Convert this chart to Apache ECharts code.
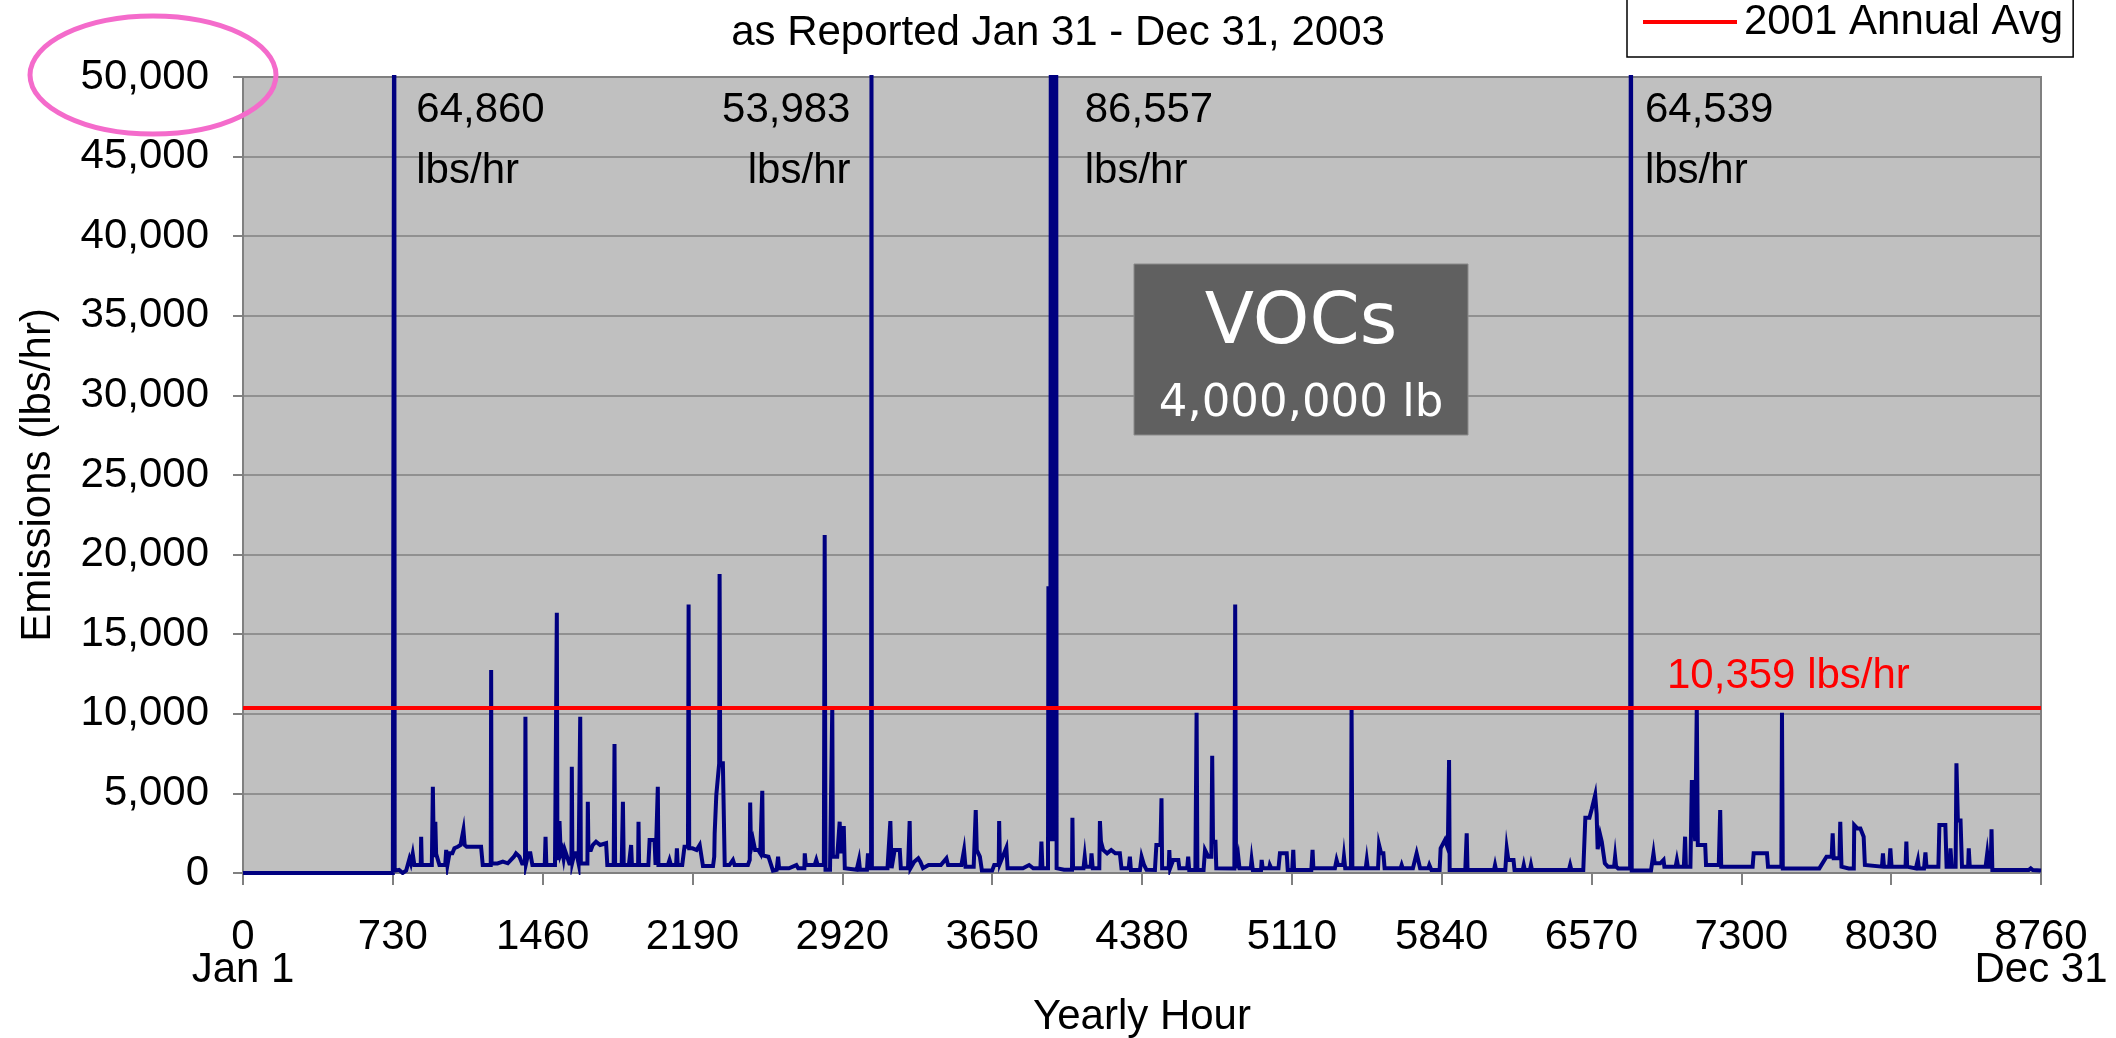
<!DOCTYPE html>
<html>
<head>
<meta charset="utf-8">
<script src="https://cdn.jsdelivr.net/npm/echarts@6/dist/echarts.min.js"></script>
<style>
  html, body { margin: 0; padding: 0; background: #fff; }
  #chart { width: 2116px; height: 1038px; }
</style>
</head>
<body>
<div id="chart"></div>
<script>
// hourly VOC emissions as [yearly hour, lbs/hr]
const janToMar = [
  [0, 0], [730, 0], [735, 0], [737, 64860], [739, 150], [746, 80], [760, 200], [778, 0], [795, 150],
  [811, 900], [818, 600], [827, 1200], [835, 500], [843, 500], [866, 500], [868, 2280], [871, 500],
  [900, 500], [920, 500], [925, 5420], [930, 1000], [937, 3220], [941, 1200], [950, 1200], [957, 500],
  [985, 500], [990, 1450], [996, 500], [1006, 1235], [1020, 1235], [1030, 1550], [1046, 1650], [1060, 1760],
  [1074, 2700], [1080, 1760], [1090, 1650], [1103, 1650], [1130, 1650], [1160, 1650], [1168, 500],
  [1190, 500], [1207, 500], [1209, 12750], [1211, 600],
  [1240, 600], [1266, 710], [1290, 610], [1320, 1025], [1330, 1235], [1347, 1025], [1360, 600],
  [1374, 600], [1376, 9820], [1379, 600], [1390, 1235], [1400, 1235], [1410, 500],
  [1470, 500], [1474, 2280], [1478, 500], [1520, 500], [1527, 500], [1529, 16350], [1532, 800],
  [1542, 3260], [1548, 1200], [1555, 1445], [1562, 900], [1568, 1445], [1574, 1445], [1590, 600],
  [1600, 600], [1602, 6680], [1605, 700], [1615, 1235], [1625, 1235], [1635, 600],
  [1641, 600], [1643, 9820], [1646, 600], [1665, 600], [1678, 600], [1680, 4480], [1683, 1445], [1695, 1445],
  [1704, 1760], [1720, 1970], [1740, 1760], [1769, 1870], [1775, 500],
  [1806, 500], [1808, 500], [1810, 8100], [1813, 500], [1845, 500], [1851, 4480], [1855, 500],
  [1880, 500], [1891, 1760], [1895, 500], [1925, 500], [1927, 3220], [1930, 500],
  [1975, 500], [1981, 2070], [2005, 2070], [2010, 500], [2018, 500], [2021, 5420], [2024, 500],
  [2070, 500], [2078, 820], [2085, 500], [2110, 500], [2114, 1550], [2118, 500],
  [2140, 500], [2151, 1650], [2160, 1650], [2168, 1650], [2171, 16870], [2174, 1550]
];
const aprToJun = [
  [2190, 1550], [2210, 1445], [2225, 1760], [2230, 1760], [2241, 440], [2290, 440], [2296, 1025], [2298, 2490],
  [2306, 4900], [2320, 6890], [2322, 18780], [2325, 6890], [2338, 6890], [2347, 500],
  [2370, 500], [2387, 820], [2395, 500], [2460, 500], [2469, 820], [2471, 4420], [2475, 1500], [2485, 2070],
  [2495, 1445], [2510, 1445], [2520, 1235], [2528, 1235], [2530, 5170], [2533, 1100], [2560, 1025],
  [2582, 150], [2600, 200], [2607, 1025], [2612, 300],
  [2660, 300], [2696, 500], [2705, 300], [2735, 300], [2737, 1235], [2742, 500], [2785, 500], [2793, 820],
  [2800, 500], [2830, 500], [2834, 21230], [2838, 200], [2860, 200], [2869, 200], [2871, 10490], [2874, 1025],
  [2895, 1025], [2907, 3220], [2912, 1235], [2927, 2950], [2932, 300],
  [2990, 200], [3001, 820], [3006, 200], [3040, 200], [3045, 1235], [3050, 300], [3060, 300], [3062, 53983], [3064, 300],
  [3140, 300], [3154, 3260], [3160, 300], [3175, 1445], [3200, 1445], [3205, 300], [3240, 300], [3248, 3260], [3252, 300],
  [3270, 710], [3290, 920], [3300, 710], [3313, 300],
  [3340, 500], [3400, 500], [3427, 920], [3435, 500], [3500, 500], [3513, 1445], [3520, 400], [3560, 400],
  [3570, 3960], [3575, 1445], [3590, 1025], [3600, 150], [3650, 150], [3660, 500], [3682, 500], [3684, 3260],
  [3688, 600], [3719, 1590], [3725, 300],
  [3800, 300], [3830, 500], [3850, 300], [3885, 300], [3890, 1970], [3895, 300],
  [3922, 300], [3924, 17880], [3934, 17880], [3937, 86557], [3941, 2000], [3945, 86557], [3949, 2000],
  [3953, 86557], [3957, 2000], [3961, 86557], [3964, 300],
  [4000, 200], [4039, 200], [4041, 3470], [4044, 300], [4095, 300], [4101, 1025], [4106, 400], [4130, 400],
  [4134, 1235], [4140, 300], [4172, 300], [4175, 3260], [4180, 1970], [4191, 1445], [4210, 1235], [4230, 1445],
  [4250, 1235], [4272, 1235], [4280, 300], [4315, 300], [4321, 1025], [4326, 190], [4370, 190], [4378, 1025]
];
const julToSep = [
  [4390, 500], [4402, 200], [4443, 190], [4450, 1760], [4470, 1760], [4475, 4690], [4478, 300], [4510, 300],
  [4513, 1445], [4517, 300], [4532, 820], [4557, 820], [4562, 300], [4600, 300], [4605, 1025], [4610, 190],
  [4640, 190], [4646, 10070], [4650, 190], [4680, 190], [4687, 1445], [4703, 1025], [4718, 1025], [4722, 7370],
  [4726, 1970], [4738, 1970], [4742, 300],
  [4830, 290], [4834, 16870], [4838, 300], [4849, 1025], [4855, 300], [4910, 300], [4914, 820], [4920, 190],
  [4960, 190], [4963, 820], [4968, 300], [5000, 300], [5003, 500], [5010, 300], [5045, 300], [5052, 1235],
  [5085, 1235], [5090, 190], [5112, 190], [5117, 1450], [5121, 190], [5205, 190], [5211, 1450], [5215, 300],
  [5320, 300], [5328, 820], [5335, 500], [5360, 500], [5364, 1025], [5370, 300], [5398, 300], [5401, 10490],
  [5405, 300], [5470, 300], [5475, 820], [5480, 300], [5530, 300], [5535, 1760], [5545, 1235], [5556, 1235],
  [5562, 300], [5640, 300], [5645, 500], [5650, 300], [5700, 300], [5718, 1235], [5735, 300], [5775, 300],
  [5780, 500], [5790, 190],
  [5830, 190], [5835, 1550], [5856, 2070], [5870, 1550], [5874, 1550], [5876, 7100], [5879, 190], [5955, 190],
  [5962, 2490], [5966, 190],
  [6095, 190], [6100, 500], [6105, 190], [6150, 190], [6157, 1550], [6165, 820], [6190, 820], [6195, 190],
  [6235, 190], [6240, 500], [6245, 190], [6270, 190], [6275, 500], [6280, 190], [6460, 190], [6466, 500],
  [6472, 190], [6530, 190], [6540, 3470], [6560, 3470], [6571, 4000], [6580, 4000], [6588, 4900]
];
const octToDec = [
  [6595, 3700], [6600, 1500], [6612, 2400], [6620, 1970], [6628, 1970], [6635, 610], [6650, 400], [6680, 400],
  [6685, 1025], [6690, 400], [6700, 290], [6758, 290], [6762, 64539], [6766, 150],
  [6860, 150], [6872, 1235], [6878, 610], [6905, 610], [6921, 820], [6925, 400], [6980, 400], [6986, 820],
  [6992, 400], [7020, 400], [7026, 2280], [7030, 400], [7052, 400], [7059, 5840], [7068, 5840], [7075, 2000],
  [7083, 10490], [7088, 1760], [7108, 1760], [7124, 1760], [7128, 500], [7190, 500], [7197, 3960], [7202, 400],
  [7355, 400], [7360, 1235], [7425, 1235], [7430, 400], [7495, 400], [7498, 10070], [7502, 290],
  [7680, 290], [7715, 1025], [7740, 1025], [7745, 2490], [7750, 920], [7778, 920], [7782, 3220], [7788, 400],
  [7823, 290], [7848, 290], [7850, 3010], [7858, 3010], [7865, 2800], [7880, 2800], [7896, 2280], [7902, 500],
  [7985, 400], [7990, 1235], [7995, 400], [8020, 400], [8026, 1550], [8032, 400], [8100, 400], [8104, 1970],
  [8108, 400], [8150, 290], [8160, 820], [8165, 290], [8190, 290], [8197, 1300], [8202, 400],
  [8260, 400], [8265, 3010], [8294, 3010], [8300, 400], [8315, 400], [8319, 1550], [8325, 400], [8344, 400],
  [8348, 6890], [8355, 3300], [8368, 3300], [8375, 400], [8405, 400], [8408, 1550], [8413, 400], [8490, 400],
  [8498, 1235], [8505, 400], [8515, 400], [8519, 2740], [8523, 190], [8580, 190], [8585, 290], [8590, 190],
  [8700, 190], [8710, 290], [8720, 190], [8760, 150]
];

const annualAvg = 10359;
const spikeHours = [737, 3062, 3950, 6762];
const spikePeaks = [64860, 53983, 86557, 64539];
const xTicks = [0, 730, 1460, 2190, 2920, 3650, 4380, 5110, 5840, 6570, 7300, 8030, 8760];
const xEndNotes = ['Jan 1', 'Dec 31'];
const yMax = 50000;
const yStep = 5000;

const emissions = janToMar.concat(aprToJun, julToSep, octToDec);
const fmt = (v) => v.toLocaleString('en-US');

const font = 'Liberation Sans, Arial, sans-serif';
const chart = echarts.init(document.getElementById('chart'));

const option = {
  backgroundColor: '#fff',
  animation: false,
  title: {
    text: 'as Reported Jan 31 - Dec 31, 2003',
    left: 'center',
    top: 12,
    padding: 0,
    textStyle: { fontFamily: font, fontSize: 42, fontWeight: 'normal', color: '#000' }
  },
  legend: {
    data: [{ name: '2001 Annual Avg', icon: 'rect' }],
    left: 1627,
    top: -13,
    padding: [14, 10, 14, 16],
    itemWidth: 94,
    itemHeight: 4,
    itemGap: 0,
    backgroundColor: '#fff',
    borderColor: '#000',
    borderWidth: 1.5,
    borderRadius: 0,
    textStyle: { fontFamily: font, fontSize: 42, color: '#000', padding: [0, 0, 0, 2] }
  },
  grid: {
    left: 243, right: 75, top: 77, bottom: 165,
    outerBoundsMode: 'none',
    containLabel: false,
    show: true,
    backgroundColor: '#C0C0C0',
    borderColor: '#808080',
    borderWidth: 2
  },
  xAxis: {
    type: 'value',
    min: 0, max: 8760, interval: 730,
    name: 'Yearly Hour',
    nameLocation: 'middle',
    nameGap: 107,
    nameTextStyle: { fontFamily: font, fontSize: 42, color: '#000' },
    axisLine: { show: true, onZero: false, lineStyle: { color: '#808080', width: 2 } },
    axisTick: { show: true, length: 12, lineStyle: { color: '#808080', width: 2 } },
    splitLine: { show: false },
    axisLabel: {
      margin: 48,
      fontFamily: font, fontSize: 42, color: '#000', lineHeight: 33,
      formatter: (v) => {
        if (v === xTicks[0]) return v + '\n' + xEndNotes[0];
        if (v === xTicks[xTicks.length - 1]) return v + '\n' + xEndNotes[1];
        return String(v);
      }
    }
  },
  yAxis: {
    type: 'value',
    min: 0, max: yMax, interval: yStep,
    name: 'Emissions (lbs/hr)',
    nameLocation: 'middle',
    nameGap: 184,
    nameTextStyle: { fontFamily: font, fontSize: 42, color: '#000' },
    axisLine: { show: true, lineStyle: { color: '#808080', width: 2 } },
    axisTick: { show: true, length: 10, lineStyle: { color: '#808080', width: 2 } },
    splitLine: { show: true, lineStyle: { color: '#808080', width: 1.5 } },
    axisLabel: { margin: 34, fontFamily: font, fontSize: 42, color: '#000', formatter: fmt }
  },
  series: [
    {
      name: 'VOCs',
      type: 'line',
      data: emissions,
      symbol: 'none',
      clip: true,
      silent: true,
      z: 3,
      lineStyle: { color: '#000080', width: 4, join: 'miter' }
    },
    {
      name: '2001 Annual Avg',
      type: 'line',
      data: [[0, annualAvg], [8760, annualAvg]],
      symbol: 'none',
      silent: true,
      z: 4,
      color: '#FF0000',
      lineStyle: { color: '#FF0000', width: 4 }
    }
  ]
};
chart.setOption(option);

// text notes placed from the axes
const topY = chart.convertToPixel({ seriesIndex: 0 }, [0, yMax])[1];
const labelSide = ['right', 'left', 'right', 'right'];
const labelGap = [22, 21, 31, 14];
const notes = [];
spikeHours.forEach((h, i) => {
  const px = chart.convertToPixel({ seriesIndex: 0 }, [h, 0])[0];
  const right = labelSide[i] === 'right';
  notes.push({
    type: 'text',
    x: right ? px + labelGap[i] : px - labelGap[i],
    y: topY + 3,
    style: {
      text: fmt(spikePeaks[i]) + '\nlbs/hr',
      fill: '#000',
      font: '42px ' + font,
      lineHeight: 61,
      align: right ? 'left' : 'right',
      verticalAlign: 'top'
    },
    z: 10
  });
});

const avgY = chart.convertToPixel({ seriesIndex: 1 }, [0, annualAvg])[1];
notes.push({
  type: 'text',
  x: 1667,
  y: avgY - 32,
  style: {
    text: fmt(annualAvg) + ' lbs/hr',
    fill: '#FF0000',
    font: '42px ' + font,
    align: 'left',
    verticalAlign: 'middle'
  },
  z: 10
});

// VOCs total box
notes.push({
  type: 'group',
  z: 10,
  children: [
    { type: 'rect', shape: { x: 1134, y: 264, width: 334, height: 171 },
      style: { fill: '#606060', stroke: '#8a8a8a', lineWidth: 1 } },
    { type: 'text', x: 1301, y: 324,
      style: { text: 'VOCs', fill: '#fff', font: '72px DejaVu Sans, sans-serif', align: 'center', verticalAlign: 'middle' } },
    { type: 'text', x: 1301, y: 404,
      style: { text: '4,000,000 lb', fill: '#fff', font: '45px DejaVu Sans, sans-serif', align: 'center', verticalAlign: 'middle' } }
  ]
});

// pink highlight ring around the top tick
notes.push({
  type: 'ellipse',
  shape: { cx: 153, cy: 75, rx: 123, ry: 59 },
  style: { fill: null, stroke: '#F46BCB', lineWidth: 5 },
  z: 20
});

chart.setOption({ graphic: notes });
</script>
</body>
</html>
